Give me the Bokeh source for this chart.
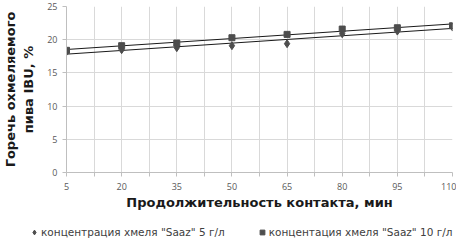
import numpy as np
from bokeh.plotting import figure
from bokeh.layouts import column
from bokeh.models import FixedTicker, Legend, LegendItem, Range1d
from bokeh.embed import file_html
from bokeh.resources import INLINE

# ---- data ----
contact_min = [5, 20, 35, 50, 65, 80, 95, 110]
saaz_5 = [18.2, 18.5, 18.8, 19.1, 19.4, 20.9, 21.3, 21.9]
saaz_10 = [18.4, 19.1, 19.5, 20.3, 20.8, 21.6, 21.8, 22.1]
y_ticks = [0, 5, 10, 15, 20, 25]
label_5 = 'концентрация хмеля "Saaz" 5 г/л'
label_10 = 'концентация хмеля "Saaz" 10 г/л'
x_title = "Продолжительность контакта, мин"
y_title = "Горечь охмеляемого\nпива IBU, %"

x_minor = [(a + b) / 2 for a, b in zip(contact_min[:-1], contact_min[1:])]

p = figure(width=456, height=226, output_backend="svg", toolbar_location=None,
           x_range=Range1d(contact_min[0], contact_min[-1]), y_range=Range1d(0, 25),
           min_border_left=53, min_border_right=4, min_border_top=6, min_border_bottom=54)
p.frame_align = False
p.outline_line_color = None
p.background_fill_color = "white"
p.border_fill_color = "white"

# grid
grid_color = "#d9d9d9"
p.xgrid.ticker = FixedTicker(ticks=sorted(contact_min + x_minor))
p.xgrid.grid_line_color = grid_color
p.ygrid.ticker = FixedTicker(ticks=y_ticks)
p.ygrid.grid_line_color = grid_color

# axes
axis_color = "#bfbfbf"
tick_font = "Open Sans"
p.xaxis.ticker = FixedTicker(ticks=contact_min, minor_ticks=x_minor)
p.yaxis.ticker = FixedTicker(ticks=y_ticks)
for ax in (p.xaxis, p.yaxis):
    ax.axis_line_color = axis_color
    ax.major_tick_line_color = axis_color
    ax.minor_tick_line_color = axis_color
    ax.major_tick_out = 4
    ax.major_tick_in = 0
    ax.minor_tick_out = 4
    ax.minor_tick_in = 0
    ax.major_label_text_font = tick_font
    ax.major_label_text_font_size = "9px"
    ax.major_label_text_color = "#595959"
    ax.axis_label_text_font = "DejaVu Sans"
    ax.axis_label_text_font_style = "bold"
    ax.axis_label_text_font_size = "13px"
    ax.axis_label_text_color = "#1a1a1a"
p.yaxis.minor_tick_line_color = None
p.xaxis.major_label_standoff = 6
p.yaxis.major_label_standoff = 5
p.xaxis.axis_label = x_title
p.xaxis.axis_label_standoff = 2
p.yaxis.axis_label = y_title
p.yaxis.axis_label_standoff = 8

# trend lines (least squares on the data)
xs = np.array(contact_min, dtype=float)
k5, b5 = np.polyfit(xs, saaz_5, 1)
k10, b10 = np.polyfit(xs, saaz_10, 1)
p.line(xs, k5 * xs + b5, line_color="#1a1a1a", line_width=1)
p.line(xs, k10 * xs + b10, line_color="#1a1a1a", line_width=1)

marker_color = "#4d4d4d"
p.scatter(contact_min, saaz_5, marker="diamond", size=8,
          fill_color=marker_color, line_color=marker_color)
p.scatter(contact_min, saaz_10, marker="square", size=6,
          fill_color=marker_color, line_color=marker_color)

# ---- legend strip below the chart (its ranges keep the proxy points out of view) ----
lg = figure(width=456, height=12, output_backend="svg", toolbar_location=None,
            x_range=Range1d(-2, -1), y_range=Range1d(-2, -1),
            x_axis_location=None, y_axis_location=None,
            min_border_left=0, min_border_right=0, min_border_top=0, min_border_bottom=0)
lg.frame_align = False
lg.outline_line_color = None
lg.xgrid.visible = False
lg.ygrid.visible = False
l5 = lg.scatter(x=contact_min[:1], y=saaz_5[:1], marker="diamond", size=8,
                fill_color=marker_color, line_color=marker_color)
l10 = lg.scatter(x=contact_min[:1], y=saaz_10[:1], marker="square", size=6,
                 fill_color=marker_color, line_color=marker_color)
legend = Legend(items=[LegendItem(label=label_5, renderers=[l5]),
                       LegendItem(label=label_10, renderers=[l10])],
                orientation="horizontal", location=(27, 0),
                padding=0, margin=0, spacing=30, glyph_width=14, glyph_height=12,
                label_height=12, label_standoff=0, label_text_font="DejaVu Sans",
                label_text_font_size="10.5px", label_text_color="#404040",
                background_fill_alpha=0, border_line_color=None)
lg.add_layout(legend, "center")

layout = column(p, lg, spacing=0)
open("out.html", "w").write(file_html(layout, INLINE))
